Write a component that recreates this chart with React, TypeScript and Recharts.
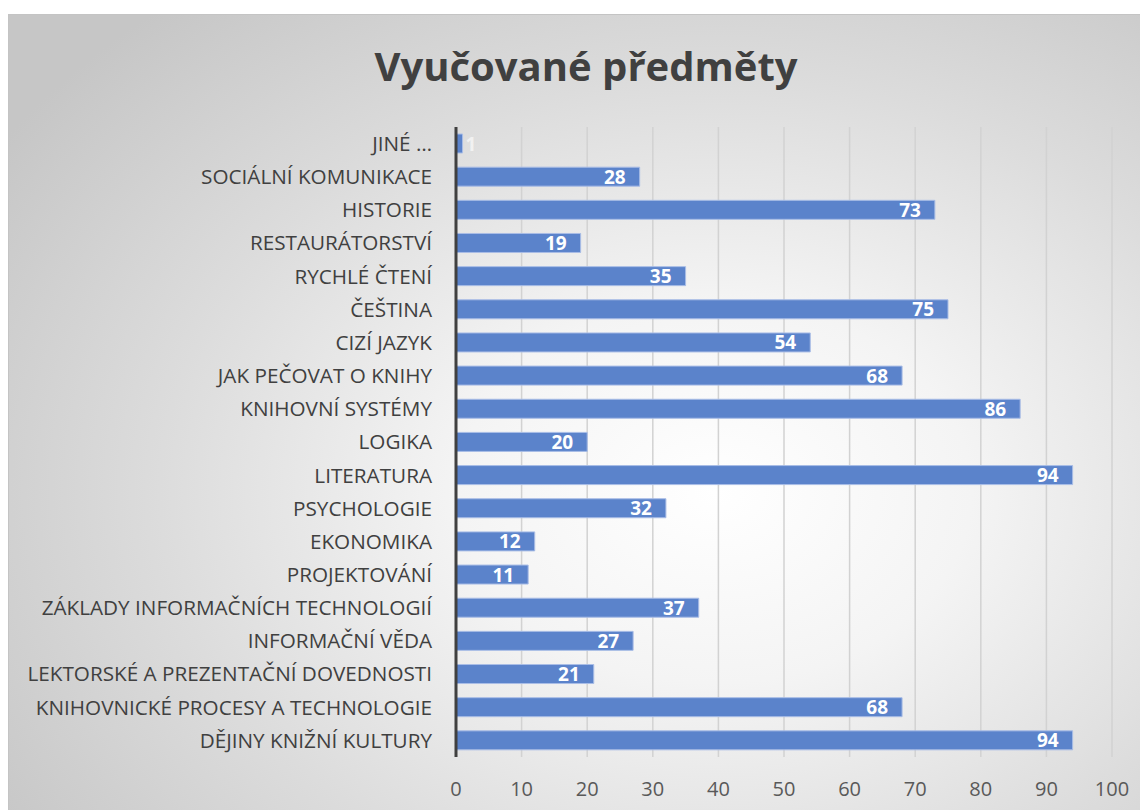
import { BarChart, Bar, XAxis, YAxis, CartesianGrid, LabelList } from 'recharts';

const subjects = [
  'JINÉ …',
  'SOCIÁLNÍ KOMUNIKACE',
  'HISTORIE',
  'RESTAURÁTORSTVÍ',
  'RYCHLÉ ČTENÍ',
  'ČEŠTINA',
  'CIZÍ JAZYK',
  'JAK PEČOVAT O KNIHY',
  'KNIHOVNÍ SYSTÉMY',
  'LOGIKA',
  'LITERATURA',
  'PSYCHOLOGIE',
  'EKONOMIKA',
  'PROJEKTOVÁNÍ',
  'ZÁKLADY INFORMAČNÍCH TECHNOLOGIÍ',
  'INFORMAČNÍ VĚDA',
  'LEKTORSKÉ A PREZENTAČNÍ DOVEDNOSTI',
  'KNIHOVNICKÉ PROCESY A TECHNOLOGIE',
  'DĚJINY KNIŽNÍ KULTURY',
];

const counts = [1, 28, 73, 19, 35, 75, 54, 68, 86, 20, 94, 32, 12, 11, 37, 27, 21, 68, 94];

const xTicks = [0, 10, 20, 30, 40, 50, 60, 70, 80, 90, 100];

const data = subjects.map((name, i) => ({ name, value: counts[i] }));

const FONT = '"Open Sans", sans-serif';

const ValueLabel = (props: any) => {
  const { x, y, width, height, value } = props;
  const small = width < 24;
  return (
    <text
      x={small ? x + width + 3 : x + width - 14}
      y={y + height / 2}
      dy="0.37em"
      textAnchor={small ? 'start' : 'end'}
      fill="#ffffff"
      fillOpacity={small ? 0.6 : 1}
      fontFamily={FONT}
      fontWeight={700}
      fontSize={19}
    >
      {value}
    </text>
  );
};

export default function App() {
  return (
    <div
      style={{
        position: 'relative',
        marginTop: 6,
        width: 1140,
        height: 796,
        borderTop: '1px solid #c4c4c4',
        borderLeft: '1px solid #c4c4c4',
        boxSizing: 'border-box',
        background:
          'radial-gradient(ellipse 75% 80% at 62% 60%, #ffffff 0%, #f4f4f4 30%, #dcdcdc 65%, #c6c6c6 100%)',
        fontFamily: FONT,
      }}
    >
      <div
        style={{
          position: 'absolute',
          top: 23,
          left: 0,
          width: 1154,
          textAlign: 'center',
          fontSize: 40,
          fontWeight: 700,
          color: '#404040',
        }}
      >
        Vyučované předměty
      </div>
      <BarChart
        width={1140}
        height={796}
        data={data}
        layout="vertical"
        margin={{ top: 112, right: 37, left: 0, bottom: 0 }}
        barSize={19}
        style={{ position: 'absolute', top: 0, left: 0 }}
      >
        <CartesianGrid horizontal={false} stroke="#d2d2d2" strokeWidth={1.5} />
        <XAxis
          type="number"
          domain={[0, 100]}
          ticks={xTicks}
          axisLine={false}
          tickLine={false}
          tickMargin={19}
          height={54}
          tick={{ fill: '#595959', fontSize: 20, fontFamily: FONT }}
        />
        <YAxis
          type="category"
          dataKey="name"
          width={447}
          axisLine={{ stroke: '#404040', strokeWidth: 3 }}
          tickLine={false}
          tickMargin={18}
          interval={0}
          tick={{ fill: '#404040', fontSize: 20.7, fontFamily: FONT }}
        />
        <Bar dataKey="value" fill="#5b83cb" stroke="#a9bde6" strokeWidth={1} isAnimationActive={false}>
          <LabelList dataKey="value" content={<ValueLabel />} />
        </Bar>
      </BarChart>
    </div>
  );
}
